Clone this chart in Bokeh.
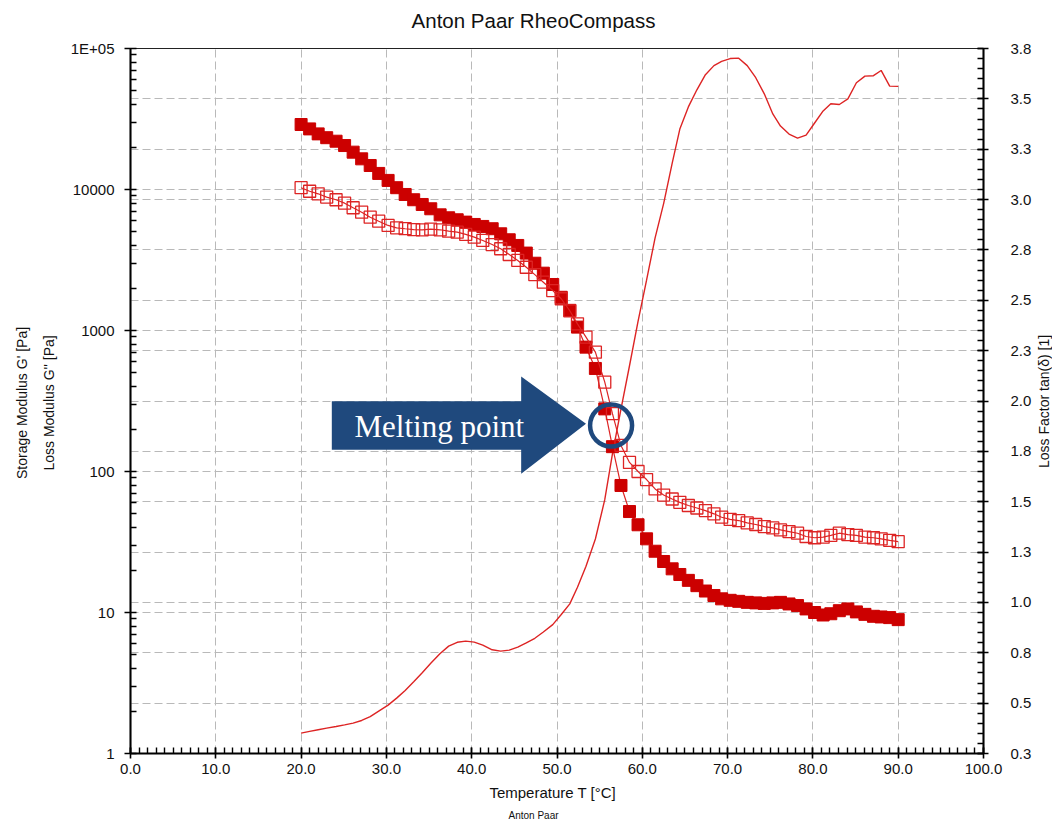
import math

from bokeh.plotting import figure
from bokeh.layouts import row, column
from bokeh.models import (Range1d, LinearAxis, LinearScale, FixedTicker, Grid,
                          Title, PrintfTickFormatter)
from bokeh.embed import file_html
from bokeh.resources import INLINE
from bokeh.core.properties import value

# Temperature sweep of the sample, measured points
temperature = [
    20.0, 21.0, 22.0, 23.0, 24.1, 25.1, 26.1, 27.1, 28.1, 29.1, 30.2, 31.2,
    32.2, 33.2, 34.2, 35.2, 36.3, 37.3, 38.3, 39.3, 40.3, 41.3, 42.4, 43.4,
    44.4, 45.4, 46.4, 47.4, 48.4, 49.5, 50.5, 51.5, 52.4, 53.4, 54.5, 55.6,
    56.5, 57.5, 58.5, 59.5, 60.5, 61.5, 62.5, 63.5, 64.4, 65.4, 66.4, 67.4,
    68.4, 69.3, 70.3, 71.3, 72.3, 73.3, 74.3, 75.3, 76.2, 77.2, 78.2, 79.2,
    80.2, 81.2, 82.1, 83.1, 84.1, 85.1, 86.1, 87.1, 88.0, 89.0, 90.0,
]

# Storage modulus G' [Pa]
storage_modulus = [
    28900, 26900, 24800, 23300, 22000, 20500, 18400, 16500, 14800, 13000,
    11600, 10300, 9220, 8460, 7830, 7300, 6610, 6300, 6100, 5870, 5650,
    5470, 5270, 4850, 4400, 4010, 3540, 3000, 2550, 2120, 1720, 1390,
    1057, 762, 538, 278, 150,
    79.6, 52.0, 41.9, 33.3, 27.2, 23.0, 20.4, 18.6, 16.9, 15.5, 14.2, 13.2,
    12.5, 12.2, 12.0, 11.8, 11.7, 11.6, 11.7, 11.8, 11.5, 11.2, 10.6, 10.0,
    9.6, 9.8, 10.3, 10.6, 10.1, 9.7, 9.4, 9.3, 9.2, 8.9,
]

# Loss modulus G'' [Pa]
loss_modulus = [
    10300, 9720, 9320, 8830, 8460, 8000, 7420, 6900, 6360, 5960, 5560,
    5350, 5270, 5200, 5180, 5230, 5180, 5060, 4980, 4800, 4590, 4350,
    4070, 3800, 3460, 3140, 2810, 2490, 2200, 1920, 1680, 1380,
    1115, 897, 702, 430, 257, 153, 116,
    100, 87.7, 75.2, 68.1, 63.8, 60.4, 57.4, 55.1, 52.8, 50.1, 47.4, 45.7,
    44.9, 43.2, 42.1, 40.7, 39.8, 38.5, 37.5, 36.5, 34.6, 33.9, 34.2, 35.2,
    36.5, 35.7, 35.2, 34.2, 33.9, 33.3, 32.5, 31.8,
]

# Loss factor tan(delta) [1]
loss_factor = [
    0.351, 0.360, 0.368, 0.376, 0.384, 0.392, 0.401, 0.414, 0.433, 0.460,
    0.490, 0.525, 0.563, 0.606, 0.651, 0.698, 0.746, 0.783, 0.802, 0.808,
    0.803, 0.788, 0.765, 0.758, 0.763, 0.778, 0.799, 0.822, 0.853, 0.890,
    0.940, 0.993, 1.075, 1.180, 1.315, 1.510, 1.738, 1.960, 2.175, 2.395,
    2.600, 2.810, 2.980, 3.180, 3.350, 3.460, 3.545, 3.620, 3.665, 3.686,
    3.700, 3.702, 3.665, 3.605, 3.525, 3.425, 3.365, 3.325, 3.305, 3.320,
    3.380, 3.440, 3.476, 3.472, 3.500, 3.580, 3.613, 3.615, 3.641, 3.563,
    3.562,
]

x_ticks = [0, 10, 20, 30, 40, 50, 60, 70, 80, 90, 100]
modulus_ticks = [1, 10, 100, 1000, 10000, 100000]
modulus_tick_labels = ["1", "10", "100", "1000", "10000", "1E+05"]
tan_ticks = [0.25, 0.5, 0.75, 1.0, 1.25, 1.5, 1.75, 2.0, 2.25, 2.5, 2.75,
             3.0, 3.25, 3.5, 3.75]
tan_tick_labels = ["0.3", "0.5", "0.8", "1.0", "1.3", "1.5", "1.8", "2.0",
                   "2.3", "2.5", "2.8", "3.0", "3.3", "3.5", "3.8"]

RED = "#cc0000"
LINE_RED = "#dd2424"
NAVY = "#1f497d"
GRID = "#b9b9b9"
FONT = "Liberation Sans"
INK = "#111111"


def blank_figure(width, height, x_end, y_end):
    """A bare canvas used only to carry a line of text."""
    f = figure(
        width=width, height=height,
        x_range=Range1d(0, x_end), y_range=Range1d(0, y_end),
        output_backend="svg", toolbar_location=None,
        x_axis_location=None, y_axis_location=None,
        min_border=0, outline_line_color=None,
        background_fill_color="white", border_fill_color="white",
    )
    f.grid.visible = False
    return f


p = figure(
    width=1034, height=787,
    x_range=Range1d(0, 100), y_range=Range1d(1, 1e5),
    y_axis_type="log",
    output_backend="svg", toolbar_location=None,
    min_border_left=130, min_border_right=49,
    min_border_top=10, min_border_bottom=72,
    background_fill_color="white", border_fill_color="white",
)
p.extra_y_ranges = {"tan": Range1d(0.25, 3.75)}
p.extra_y_scales = {"tan": LinearScale()}

p.outline_line_color = "#222222"
p.outline_line_width = 1.2


def style_axis(ax):
    ax.axis_line_color = "black"
    ax.axis_line_width = 2
    ax.major_tick_line_color = "black"
    ax.major_tick_line_width = 1.6
    ax.minor_tick_line_color = "black"
    ax.minor_tick_line_width = 1.4
    ax.major_tick_in = 6
    ax.major_tick_out = 6
    ax.minor_tick_in = 6
    ax.minor_tick_out = 0
    ax.major_label_text_font = FONT
    ax.major_label_text_font_size = "15px"
    ax.major_label_text_color = INK
    ax.axis_label_text_font = FONT
    ax.axis_label_text_font_size = "14px"
    ax.axis_label_text_font_style = "normal"
    ax.axis_label_text_color = INK


# Bottom axis: temperature
xax = p.xaxis[0]
style_axis(xax)
xax.ticker = FixedTicker(ticks=x_ticks, minor_ticks=list(range(0, 101)))
xax.formatter = PrintfTickFormatter(format="%.1f")
xax.major_tick_out = 5
xax.major_label_standoff = 5
xax.axis_label = "Temperature  T  [°C]"
xax.axis_label_text_font_size = "15px"
xax.axis_label_standoff = 7

# Left axis: moduli (log)
yax = p.yaxis[0]
style_axis(yax)
yax.ticker = FixedTicker(
    ticks=modulus_ticks,
    minor_ticks=[m * 10 ** e for e in range(0, 5) for m in range(2, 10)],
)
yax.major_label_overrides = dict(zip(modulus_ticks, modulus_tick_labels))
yax.major_label_standoff = 10
yax.axis_label = "Loss Modulus G''  [Pa]"
yax.axis_label_standoff = 11

p.add_layout(Title(text="Storage Modulus G'  [Pa]", align="center",
                   text_font=FONT, text_font_size="14px",
                   text_font_style="normal", text_color=INK,
                   standoff=16), "left")

# Right axis: loss factor
rax = LinearAxis(y_range_name="tan")
style_axis(rax)
rax.ticker = FixedTicker(ticks=tan_ticks,
                         minor_ticks=[round(0.25 + 0.05 * i, 2) for i in range(71)])
rax.major_label_overrides = dict(zip(tan_ticks, tan_tick_labels))
rax.major_tick_out = 5
rax.major_label_standoff = 22
p.add_layout(rax, "right")

# Footer
p.add_layout(Title(text="Anton Paar", align="left", offset=378,
                   text_font=FONT, text_font_size="10px",
                   text_font_style="normal", text_color=INK,
                   standoff=8), "below")

# Grid lines
p.xgrid.ticker = FixedTicker(ticks=x_ticks[1:-1])
p.ygrid.ticker = FixedTicker(ticks=modulus_ticks[1:-1])
for g in (p.xgrid[0], p.ygrid[0]):
    g.grid_line_color = GRID
    g.grid_line_dash = "8 4"
    g.grid_line_width = 1
tan_grid = Grid(dimension=1, ticker=FixedTicker(ticks=tan_ticks[1:-1]),
                y_range_name="tan", grid_line_color=GRID,
                grid_line_dash="8 4", grid_line_width=1)
p.add_layout(tan_grid)

# Loss factor curve
p.line(temperature, loss_factor, y_range_name="tan",
       line_color=LINE_RED, line_width=1.4)

# Storage modulus (filled squares)
p.line(temperature, storage_modulus, line_color=LINE_RED, line_width=1.2)
p.scatter(temperature, storage_modulus, marker="square", size=12,
          fill_color=RED, line_color=RED, line_width=1)

# Loss modulus (open squares)
p.line(temperature, loss_modulus, line_color=LINE_RED, line_width=1.2)
p.scatter(temperature, loss_modulus, marker="square", size=12,
          fill_color=None, line_color=LINE_RED, line_width=1.3)

# Melting point callout: block arrow, label and ring
arrow_x = [23.6, 45.8, 45.8, 53.4, 45.8, 45.8, 23.6]
arrow_y = [315, 315, 472, 218, 96.3, 142.5, 142.5]
p.patch(arrow_x, arrow_y, fill_color=NAVY, line_color=None)
p.text(x=[36.2], y=[208], text=["Melting point"],
       text_font=value("Liberation Serif"), text_font_size="31px",
       text_color="white", text_align="center", text_baseline="middle")
p.scatter([56.34], [212], marker="circle", size=42, fill_color=None,
          line_color=NAVY, line_width=4.5)

# Heading strip across the top
header = blank_figure(1052, 38, 1052, 38)
header.text(x=[533], y=[18], text=["Anton Paar RheoCompass"],
            text_font=value(FONT), text_font_size="20.5px", text_color=INK,
            text_align="center", text_baseline="middle")

# Narrow strip carrying the right-hand axis title, reading upwards
side = blank_figure(18, 787, 1, 787)
side.text(x=[0.5], y=[393], text=["Loss Factor tan(δ) [1]"],
          angle=math.pi / 2, text_font=value(FONT), text_font_size="14px",
          text_color=INK, text_align="center", text_baseline="middle")

page = column(header, row(p, side))
open("out.html", "w").write(file_html(page, INLINE))
